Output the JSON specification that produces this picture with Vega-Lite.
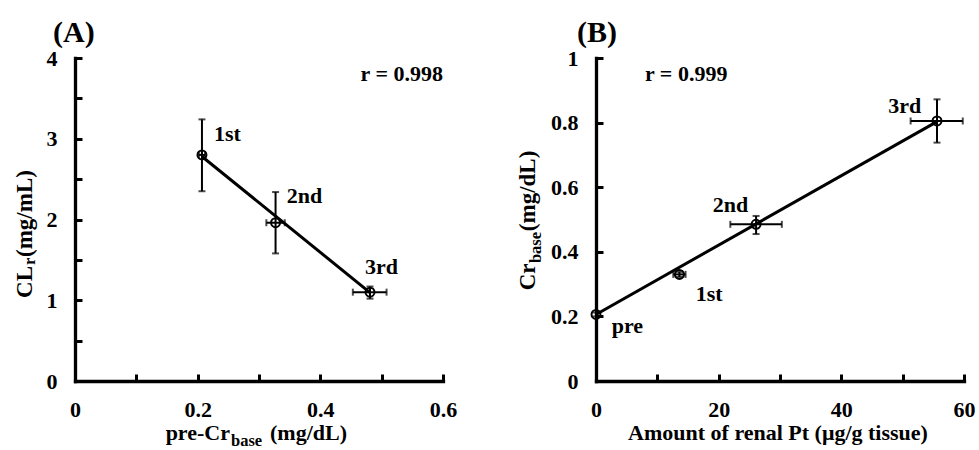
{
  "$schema": "https://vega.github.io/schema/vega-lite/v6.json",
  "background": "white",
  "padding": {"left": 14, "top": 18, "right": 5, "bottom": 0},
  "spacing": 153,
  "bounds": "flush",
  "config": {
    "font": "Liberation Serif",
    "view": {"stroke": null},
    "text": {"fontWeight": "bold", "color": "black", "fontSize": 22, "baseline": "alphabetic"},
    "tick": {"size": 7, "thickness": 2, "color": "black"},
    "rule": {"strokeWidth": 2, "color": "black"},
    "axis": {
      "domainColor": "black", "domainWidth": 3.3, "domainCap": "square", "tickColor": "black", "tickWidth": 3, "tickSize": -7,
      "labelFont": "Liberation Serif", "labelFontWeight": "bold", "labelFontSize": 22, "labelColor": "black",
      "labelPadding": 25, "labelFlush": false, "labelOverlap": false, "grid": false
    }
  },
  "datasets": {
    "ptsA": [
      {"lab": "1st", "x": 0.207, "y": 2.80, "xlo": 0.202, "xhi": 0.212, "ylo": 2.35, "yhi": 3.24, "lx": 0.2266, "ly": 2.972},
      {"lab": "2nd", "x": 0.327, "y": 1.96, "xlo": 0.312, "xhi": 0.342, "ylo": 1.58, "yhi": 2.34, "lx": 0.3451, "ly": 2.208},
      {"lab": "3rd", "x": 0.481, "y": 1.10, "xlo": 0.453, "xhi": 0.508, "ylo": 1.02, "yhi": 1.17, "lx": 0.4728, "ly": 1.321}
    ],
    "fitA": [{"x": 0.207, "y": 2.78}, {"x": 0.481, "y": 1.095}],
    "ptsB": [
      {"lab": "pre", "x": 0, "y": 0.206, "xlo": 0, "xhi": 0, "ylo": 0.2, "yhi": 0.212, "lx": 2.56, "ly": 0.1496},
      {"lab": "1st", "x": 13.6, "y": 0.330, "xlo": 12.6, "xhi": 14.6, "ylo": 0.322, "yhi": 0.338, "lx": 16.25, "ly": 0.2477},
      {"lab": "2nd", "x": 26.1, "y": 0.485, "xlo": 21.9, "xhi": 30.3, "ylo": 0.455, "yhi": 0.511, "lx": 19.02, "ly": 0.523},
      {"lab": "3rd", "x": 55.6, "y": 0.805, "xlo": 51.3, "xhi": 59.8, "ylo": 0.738, "yhi": 0.872, "lx": 47.66, "ly": 0.8307}
    ],
    "fitB": [{"x": 0, "y": 0.206}, {"x": 55.6, "y": 0.803}],
    "one": [{}]
  },
  "hconcat": [
    {
      "width": 368, "height": 323,
      "layer": [
        {"data": {"name": "fitA"}, "mark": {"type": "line", "strokeWidth": 3, "color": "black"},
         "encoding": {
           "x": {"field": "x", "type": "quantitative", "scale": {"domain": [0, 0.6], "nice": false},
                 "axis": {"title": null, "values": [0, 0.1, 0.2, 0.3, 0.4, 0.5, 0.6], "labelExpr": "round(datum.value*10) % 2 == 0 ? format(datum.value, '~g') : ''"}},
           "y": {"field": "y", "type": "quantitative", "scale": {"domain": [0, 4], "nice": false},
                 "axis": {"title": null, "values": [0, 0.5, 1, 1.5, 2, 2.5, 3, 3.5, 4], "labelExpr": "round(datum.value*10) % 10 == 0 ? format(datum.value, '~g') : ''"}}
         }},
        {"data": {"name": "ptsA"}, "mark": {"type": "rule"},
         "encoding": {
           "x": {"field": "x", "type": "quantitative", "scale": {"domain": [0, 0.6], "nice": false}},
           "y": {"field": "ylo", "type": "quantitative", "scale": {"domain": [0, 4], "nice": false}},
           "y2": {"field": "yhi"}
         }},
        {"data": {"name": "ptsA"}, "mark": {"type": "rule"},
         "encoding": {
           "x": {"field": "xlo", "type": "quantitative", "scale": {"domain": [0, 0.6], "nice": false}},
           "x2": {"field": "xhi"},
           "y": {"field": "y", "type": "quantitative", "scale": {"domain": [0, 4], "nice": false}}
         }},
        {"data": {"name": "ptsA"}, "mark": {"type": "tick", "orient": "horizontal"},
         "encoding": {
           "x": {"field": "x", "type": "quantitative", "scale": {"domain": [0, 0.6], "nice": false}},
           "y": {"field": "ylo", "type": "quantitative", "scale": {"domain": [0, 4], "nice": false}}
         }},
        {"data": {"name": "ptsA"}, "mark": {"type": "tick", "orient": "horizontal"},
         "encoding": {
           "x": {"field": "x", "type": "quantitative", "scale": {"domain": [0, 0.6], "nice": false}},
           "y": {"field": "yhi", "type": "quantitative", "scale": {"domain": [0, 4], "nice": false}}
         }},
        {"data": {"name": "ptsA"}, "mark": {"type": "tick", "orient": "vertical"},
         "encoding": {
           "x": {"field": "xlo", "type": "quantitative", "scale": {"domain": [0, 0.6], "nice": false}},
           "y": {"field": "y", "type": "quantitative", "scale": {"domain": [0, 4], "nice": false}}
         }},
        {"data": {"name": "ptsA"}, "mark": {"type": "tick", "orient": "vertical"},
         "encoding": {
           "x": {"field": "xhi", "type": "quantitative", "scale": {"domain": [0, 0.6], "nice": false}},
           "y": {"field": "y", "type": "quantitative", "scale": {"domain": [0, 4], "nice": false}}
         }},
        {"data": {"name": "ptsA"}, "mark": {"type": "point", "shape": "circle", "filled": false, "stroke": "black", "strokeWidth": 2, "size": 80, "opacity": 1},
         "encoding": {
           "x": {"field": "x", "type": "quantitative", "scale": {"domain": [0, 0.6], "nice": false}},
           "y": {"field": "y", "type": "quantitative", "scale": {"domain": [0, 4], "nice": false}}
         }},
        {"data": {"name": "ptsA"}, "mark": {"type": "text", "align": "left"},
         "encoding": {
           "x": {"field": "lx", "type": "quantitative", "scale": {"domain": [0, 0.6], "nice": false}},
           "y": {"field": "ly", "type": "quantitative", "scale": {"domain": [0, 4], "nice": false}},
           "text": {"field": "lab"}
         }},
        {"data": {"name": "one"}, "mark": {"type": "text", "align": "right", "text": "r = 0.998"},
         "encoding": {
           "x": {"datum": 0.6, "type": "quantitative", "scale": {"domain": [0, 0.6], "nice": false}},
           "y": {"datum": 3.715, "type": "quantitative", "scale": {"domain": [0, 4], "nice": false}}
         }},
        {"data": {"name": "one"}, "mark": {"type": "text", "align": "left", "text": "(A)", "fontSize": 30},
         "encoding": {
           "x": {"datum": -0.0359, "type": "quantitative", "scale": {"domain": [0, 0.6], "nice": false}},
           "y": {"datum": 4.198, "type": "quantitative", "scale": {"domain": [0, 4], "nice": false}}
         }},
        {"data": {"name": "one"}, "mark": {"type": "text", "align": "right", "text": "pre-Cr"},
         "encoding": {
           "x": {"datum": 0.2527, "type": "quantitative", "scale": {"domain": [0, 0.6], "nice": false}},
           "y": {"datum": -0.7307, "type": "quantitative", "scale": {"domain": [0, 4], "nice": false}}
         }},
        {"data": {"name": "one"}, "mark": {"type": "text", "align": "left", "text": "base", "fontSize": 16.5},
         "encoding": {
           "x": {"datum": 0.2543, "type": "quantitative", "scale": {"domain": [0, 0.6], "nice": false}},
           "y": {"datum": -0.805, "type": "quantitative", "scale": {"domain": [0, 4], "nice": false}}
         }},
        {"data": {"name": "one"}, "mark": {"type": "text", "align": "right", "text": "(mg/dL)"},
         "encoding": {
           "x": {"datum": 0.4435, "type": "quantitative", "scale": {"domain": [0, 0.6], "nice": false}},
           "y": {"datum": -0.7307, "type": "quantitative", "scale": {"domain": [0, 4], "nice": false}}
         }},
        {"data": {"name": "one"}, "mark": {"type": "text", "align": "right", "angle": 270, "text": "CL", "fontSize": 23},
         "encoding": {
           "x": {"datum": -0.0701, "type": "quantitative", "scale": {"domain": [0, 0.6], "nice": false}},
           "y": {"datum": 1.424, "type": "quantitative", "scale": {"domain": [0, 4], "nice": false}}
         }},
        {"data": {"name": "one"}, "mark": {"type": "text", "align": "left", "angle": 270, "text": "r", "fontSize": 16.5},
         "encoding": {
           "x": {"datum": -0.0652, "type": "quantitative", "scale": {"domain": [0, 0.6], "nice": false}},
           "y": {"datum": 1.436, "type": "quantitative", "scale": {"domain": [0, 4], "nice": false}}
         }},
        {"data": {"name": "one"}, "mark": {"type": "text", "align": "left", "angle": 270, "text": "(mg/mL)", "fontSize": 23},
         "encoding": {
           "x": {"datum": -0.0701, "type": "quantitative", "scale": {"domain": [0, 0.6], "nice": false}},
           "y": {"datum": 1.536, "type": "quantitative", "scale": {"domain": [0, 4], "nice": false}}
         }}
      ]
    },
    {
      "width": 368, "height": 323,
      "layer": [
        {"data": {"name": "fitB"}, "mark": {"type": "line", "strokeWidth": 3, "color": "black"},
         "encoding": {
           "x": {"field": "x", "type": "quantitative", "scale": {"domain": [0, 60], "nice": false},
                 "axis": {"title": null, "values": [0, 10, 20, 30, 40, 50, 60], "labelExpr": "datum.value % 20 == 0 ? format(datum.value, '~g') : ''"}},
           "y": {"field": "y", "type": "quantitative", "scale": {"domain": [0, 1], "nice": false},
                 "axis": {"title": null, "values": [0, 0.1, 0.2, 0.3, 0.4, 0.5, 0.6, 0.7, 0.8, 0.9, 1], "labelExpr": "round(datum.value*10) % 2 == 0 ? format(datum.value, '~g') : ''"}}
         }},
        {"data": {"name": "ptsB"}, "mark": {"type": "rule"},
         "encoding": {
           "x": {"field": "x", "type": "quantitative", "scale": {"domain": [0, 60], "nice": false}},
           "y": {"field": "ylo", "type": "quantitative", "scale": {"domain": [0, 1], "nice": false}},
           "y2": {"field": "yhi"}
         }},
        {"data": {"name": "ptsB"}, "mark": {"type": "rule"},
         "encoding": {
           "x": {"field": "xlo", "type": "quantitative", "scale": {"domain": [0, 60], "nice": false}},
           "x2": {"field": "xhi"},
           "y": {"field": "y", "type": "quantitative", "scale": {"domain": [0, 1], "nice": false}}
         }},
        {"data": {"name": "ptsB"}, "mark": {"type": "tick", "orient": "horizontal"},
         "encoding": {
           "x": {"field": "x", "type": "quantitative", "scale": {"domain": [0, 60], "nice": false}},
           "y": {"field": "ylo", "type": "quantitative", "scale": {"domain": [0, 1], "nice": false}}
         }},
        {"data": {"name": "ptsB"}, "mark": {"type": "tick", "orient": "horizontal"},
         "encoding": {
           "x": {"field": "x", "type": "quantitative", "scale": {"domain": [0, 60], "nice": false}},
           "y": {"field": "yhi", "type": "quantitative", "scale": {"domain": [0, 1], "nice": false}}
         }},
        {"data": {"name": "ptsB"}, "mark": {"type": "tick", "orient": "vertical"},
         "encoding": {
           "x": {"field": "xlo", "type": "quantitative", "scale": {"domain": [0, 60], "nice": false}},
           "y": {"field": "y", "type": "quantitative", "scale": {"domain": [0, 1], "nice": false}}
         }},
        {"data": {"name": "ptsB"}, "mark": {"type": "tick", "orient": "vertical"},
         "encoding": {
           "x": {"field": "xhi", "type": "quantitative", "scale": {"domain": [0, 60], "nice": false}},
           "y": {"field": "y", "type": "quantitative", "scale": {"domain": [0, 1], "nice": false}}
         }},
        {"data": {"name": "ptsB"}, "mark": {"type": "point", "shape": "circle", "filled": false, "stroke": "black", "strokeWidth": 2, "size": 80, "opacity": 1},
         "encoding": {
           "x": {"field": "x", "type": "quantitative", "scale": {"domain": [0, 60], "nice": false}},
           "y": {"field": "y", "type": "quantitative", "scale": {"domain": [0, 1], "nice": false}}
         }},
        {"data": {"name": "ptsB"}, "mark": {"type": "text", "align": "left"},
         "encoding": {
           "x": {"field": "lx", "type": "quantitative", "scale": {"domain": [0, 60], "nice": false}},
           "y": {"field": "ly", "type": "quantitative", "scale": {"domain": [0, 1], "nice": false}},
           "text": {"field": "lab"}
         }},
        {"data": {"name": "one"}, "mark": {"type": "text", "align": "left", "text": "r = 0.999"},
         "encoding": {
           "x": {"datum": 7.99, "type": "quantitative", "scale": {"domain": [0, 60], "nice": false}},
           "y": {"datum": 0.929, "type": "quantitative", "scale": {"domain": [0, 1], "nice": false}}
         }},
        {"data": {"name": "one"}, "mark": {"type": "text", "align": "left", "text": "(B)", "fontSize": 30},
         "encoding": {
           "x": {"datum": -3.1, "type": "quantitative", "scale": {"domain": [0, 60], "nice": false}},
           "y": {"datum": 1.0495, "type": "quantitative", "scale": {"domain": [0, 1], "nice": false}}
         }},
        {"data": {"name": "one"}, "mark": {"type": "text", "align": "center", "text": "Amount of renal Pt (μg/g tissue)"},
         "encoding": {
           "x": {"datum": 29.67, "type": "quantitative", "scale": {"domain": [0, 60], "nice": false}},
           "y": {"datum": -0.183, "type": "quantitative", "scale": {"domain": [0, 1], "nice": false}}
         }},
        {"data": {"name": "one"}, "mark": {"type": "text", "align": "right", "angle": 270, "text": "Cr", "fontSize": 23},
         "encoding": {
           "x": {"datum": -9.95, "type": "quantitative", "scale": {"domain": [0, 60], "nice": false}},
           "y": {"datum": 0.364, "type": "quantitative", "scale": {"domain": [0, 1], "nice": false}}
         }},
        {"data": {"name": "one"}, "mark": {"type": "text", "align": "left", "angle": 270, "text": "base", "fontSize": 16.5},
         "encoding": {
           "x": {"datum": -8.97, "type": "quantitative", "scale": {"domain": [0, 60], "nice": false}},
           "y": {"datum": 0.365, "type": "quantitative", "scale": {"domain": [0, 1], "nice": false}}
         }},
        {"data": {"name": "one"}, "mark": {"type": "text", "align": "left", "angle": 270, "text": "(mg/dL)", "fontSize": 23},
         "encoding": {
           "x": {"datum": -9.95, "type": "quantitative", "scale": {"domain": [0, 60], "nice": false}},
           "y": {"datum": 0.464, "type": "quantitative", "scale": {"domain": [0, 1], "nice": false}}
         }}
      ]
    }
  ]
}
